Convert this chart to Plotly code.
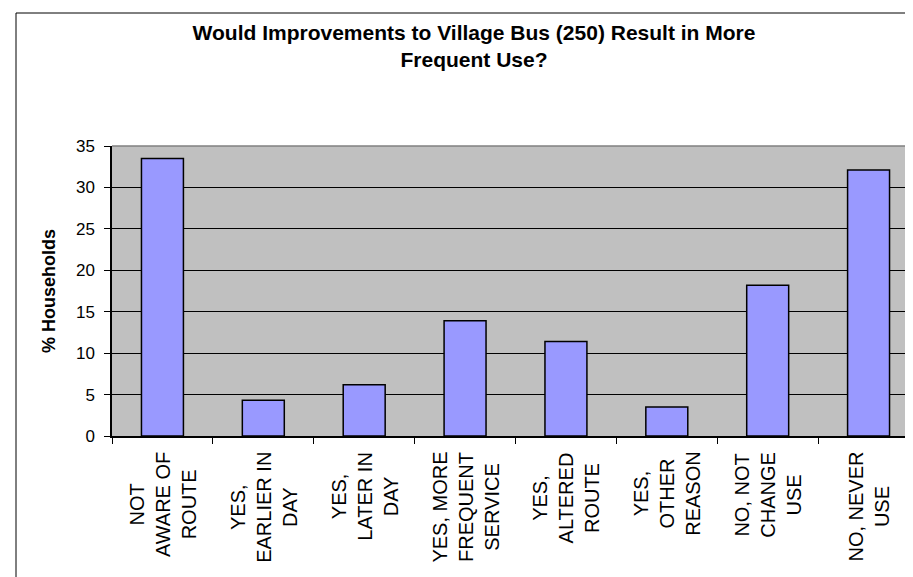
import plotly.graph_objects as go

categories = [
    "NOT AWARE OF ROUTE",
    "YES, EARLIER IN DAY",
    "YES, LATER IN DAY",
    "YES, MORE FREQUENT SERVICE",
    "YES, ALTERED ROUTE",
    "YES, OTHER REASON",
    "NO, NOT CHANGE USE",
    "NO, NEVER USE",
]
label_lines = [
    ["NOT", "AWARE OF", "ROUTE"],
    ["YES,", "EARLIER IN", "DAY"],
    ["YES,", "LATER IN", "DAY"],
    ["YES, MORE", "FREQUENT", "SERVICE"],
    ["YES,", "ALTERED", "ROUTE"],
    ["YES,", "OTHER", "REASON"],
    ["NO, NOT", "CHANGE", "USE"],
    ["NO, NEVER", "USE"],
]
pct_households = [33.5, 4.3, 6.2, 13.9, 11.4, 3.5, 18.2, 32.1]
y_ticks = [0, 5, 10, 15, 20, 25, 30, 35]

title_text = "Would Improvements to Village Bus (250) Result in More<br>Frequent Use?"
y_title = "% Households"

FONT = "Liberation Sans, Arial, sans-serif"
W, H = 913, 577
L, R, T, B = 104, 2, 138, 149

fig = go.Figure()
fig.add_trace(go.Bar(
    x=categories,
    y=pct_households,
    marker=dict(color="#9999FF", line=dict(color="#000000", width=1.5)),
    showlegend=False,
))

for cat, lines in zip(categories, label_lines):
    fig.add_annotation(
        x=cat, y=0, xref="x", yref="paper",
        text="<br>".join(lines),
        textangle=-90, showarrow=False,
        xanchor="center", yanchor="top", align="center",
        yshift=-14,
        font=dict(family=FONT, size=20, color="#000000"),
    )

# plot-area top/right border (gray), drawn over the 35 gridline
fig.add_shape(type="line", xref="paper", yref="paper", x0=0, x1=1, y0=1, y1=1,
              line=dict(color="#808080", width=1.5), layer="above")
fig.add_shape(type="line", xref="paper", yref="paper", x0=1, x1=1, y0=0, y1=1,
              line=dict(color="#808080", width=1.5), layer="above")
# chart-area frame
plot_w = W - L - R
plot_h = H - T - B
fig.add_shape(type="rect", xref="paper", yref="paper",
              x0=(8 - L) / plot_w, x1=(W + 20 - L) / plot_w,
              y0=-(H + 20 - T - plot_h) / plot_h, y1=1 + (T - 5) / plot_h,
              line=dict(color="#000000", width=1), fillcolor="rgba(0,0,0,0)", layer="below")

fig.update_layout(
    width=W, height=H, autosize=False,
    margin=dict(l=L, r=R, t=T, b=B, pad=0),
    paper_bgcolor="#FFFFFF",
    plot_bgcolor="#C0C0C0",
    bargap=0.584,
    font=dict(family=FONT, color="#000000"),
    title=dict(
        text=title_text,
        x=466 / W, xref="container", xanchor="center",
        y=1 - 32 / H, yref="container", yanchor="top",
        font=dict(family=FONT, size=21, color="#000000", weight="bold"),
    ),
    xaxis=dict(
        showticklabels=False,
        ticks="outside", ticklen=6, tickcolor="#000000", tickwidth=1,
        tickson="boundaries",
        showline=True, linecolor="#000000", linewidth=1.5,
        showgrid=False, zeroline=False,
    ),
    yaxis=dict(
        range=[0, 35],
        tickvals=y_ticks,
        ticks="outside", ticklen=6, tickcolor="#000000", tickwidth=1,
        tickfont=dict(family=FONT, size=17, color="#000000"),
        ticklabelstandoff=6,
        showline=True, linecolor="#000000", linewidth=1.5,
        showgrid=True, gridcolor="#000000", gridwidth=1,
        zeroline=False,
        title=dict(text=y_title, standoff=16,
                   font=dict(family=FONT, size=18, color="#000000", weight="bold")),
    ),
)

fig.write_html("out.html")
